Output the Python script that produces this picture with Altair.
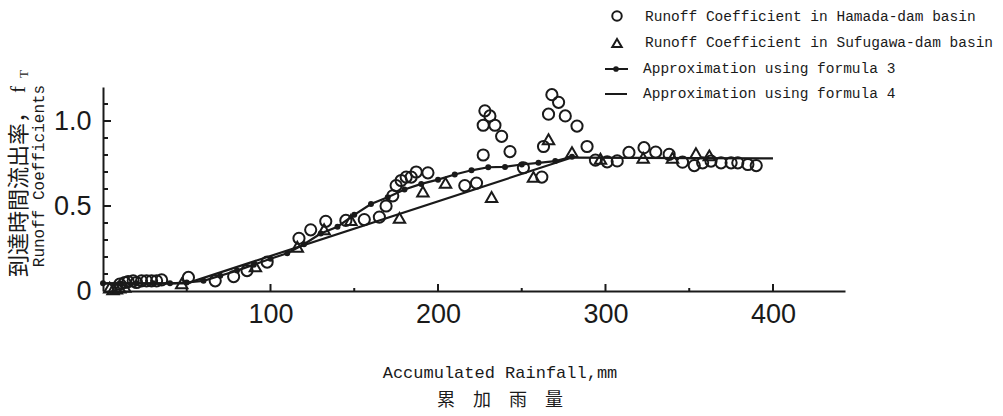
import altair as alt
import pandas as pd

# ---- data ----
hamada_x = [10, 13, 15, 18, 20, 23, 26, 29, 32, 35, 51, 67, 78, 86, 98, 117, 124, 133, 145, 156,
            165, 169, 173, 175, 178, 181, 184, 187, 194, 216, 223, 227, 227, 228, 231, 234, 238, 243, 251, 262,
            263, 266, 268, 272, 276, 283, 289, 294, 301, 307, 314, 323, 330, 338, 346, 353, 358, 363, 369, 375,
            379, 385, 390]
hamada_y = [0.04, 0.05, 0.055, 0.06, 0.05, 0.06, 0.06, 0.06, 0.06, 0.065, 0.08, 0.06, 0.085, 0.12, 0.17, 0.31, 0.36, 0.41, 0.415, 0.42,
            0.435, 0.50, 0.56, 0.62, 0.65, 0.67, 0.67, 0.70, 0.695, 0.62, 0.635, 0.80, 0.975, 1.06, 1.03, 0.975, 0.91, 0.82, 0.725, 0.67,
            0.85, 1.04, 1.155, 1.11, 1.03, 0.97, 0.85, 0.77, 0.76, 0.765, 0.815, 0.843, 0.817, 0.804, 0.758, 0.738, 0.754, 0.764, 0.754, 0.754,
            0.754, 0.744, 0.738]

sufu_x = [4, 6, 8, 10, 13, 47, 91, 116, 132, 148, 177, 191, 204.5, 232, 257, 266, 280, 297, 322.5, 340, 354, 362]
sufu_y = [0.02, 0.01, 0.015, 0.02, 0.025, 0.045, 0.145, 0.26, 0.363, 0.418, 0.43, 0.585, 0.636, 0.553, 0.671, 0.893, 0.817, 0.778, 0.784, 0.784, 0.81, 0.798]

f3_x = [0, 10, 20, 30, 40, 50, 60, 70, 80, 90, 100, 110, 120, 130, 140, 150, 160, 170, 180, 190,
        200, 210, 220, 230, 240, 250, 260, 270, 280]
f3_y = [0.045, 0.045, 0.045, 0.045, 0.045, 0.05, 0.06, 0.09, 0.12, 0.155, 0.19, 0.222, 0.275, 0.338, 0.378, 0.448, 0.512, 0.552, 0.597, 0.63,
        0.655, 0.685, 0.71, 0.728, 0.73, 0.744, 0.754, 0.764, 0.79]

f4_x = [0, 50, 280, 400]
f4_y = [0.045, 0.045, 0.785, 0.78]

x_major = [100, 200, 300, 400]
x_minor = [50, 150, 250, 350]
y_major = [0.5, 1.0]
y_minor = [0.1, 0.2, 0.3, 0.4, 0.6, 0.7, 0.8, 0.9, 1.1]
y_labels = [0, 0.5, 1.0]

legend_labels = ["Runoff Coefficient in Hamada-dam basin",
                 "Runoff Coefficient in Sufugawa-dam basin",
                 "Approximation using formula 3",
                 "Approximation using formula 4"]

x_title = "Accumulated Rainfall,mm"
x_title_jp = "累\u3000加\u3000雨\u3000量"
y_title = "Runoff Coefficients"
y_title_jp = "到達時間流出率，"

# ---- chart ----
INK = "#1a1a1a"
W, H = 742, 204
xs = alt.Scale(domain=[0, 443], nice=False, zero=False)
ys = alt.Scale(domain=[0, 1.2], nice=False)

x_axis = alt.Axis(values=x_major, title=None, grid=False, ticks=False, labelFont="Liberation Sans",
                  labelFontSize=27, labelColor=INK, labelPadding=10, domainColor=INK, domainWidth=2,
                  labelBaseline="top")
y_axis = alt.Axis(values=y_labels, title=None, grid=False, ticks=False, labelFont="Liberation Sans",
                  labelFontSize=27, labelColor=INK, labelPadding=12, domainColor=INK, domainWidth=2,
                  labelExpr="datum.value == 0 ? '0' : format(datum.value, '.1f')")


def X(f):
    return alt.X(f, type="quantitative", scale=xs, axis=x_axis)


def Y(f):
    return alt.Y(f, type="quantitative", scale=ys, axis=y_axis)


ham = pd.DataFrame({"x": hamada_x, "y": hamada_y})
suf = pd.DataFrame({"x": sufu_x, "y": sufu_y})
f3 = pd.DataFrame({"x": f3_x, "y": f3_y})
f4 = pd.DataFrame({"x": f4_x, "y": f4_y})

l_f4 = alt.Chart(f4).mark_line(color=INK, strokeWidth=2.2).encode(x=X("x"), y=Y("y"))
l_f3 = alt.Chart(f3).mark_line(color=INK, strokeWidth=2.2).encode(x=X("x"), y=Y("y"))
p_f3 = alt.Chart(f3).mark_point(shape="circle", filled=True, color=INK, size=36, opacity=1).encode(x=X("x"), y=Y("y"))
p_ham = alt.Chart(ham).mark_point(shape="circle", filled=False, color=INK, size=125, strokeWidth=2, opacity=1).encode(x=X("x"), y=Y("y"))
p_suf = alt.Chart(suf).mark_point(shape="triangle-up", filled=False, color=INK, size=130, strokeWidth=2, opacity=1).encode(x=X("x"), y=Y("y"))

# inward ticks
xt_major = alt.Chart(pd.DataFrame({"v": x_major})).mark_rule(color=INK, strokeWidth=2).encode(
    x=X("v"), y=alt.value(H), y2=alt.value(H - 7))
xt_minor = alt.Chart(pd.DataFrame({"v": x_minor})).mark_rule(color=INK, strokeWidth=2).encode(
    x=X("v"), y=alt.value(H), y2=alt.value(H - 3))
yt_major = alt.Chart(pd.DataFrame({"v": y_major})).mark_rule(color=INK, strokeWidth=2).encode(
    y=Y("v"), x=alt.value(0), x2=alt.value(8))
yt_minor = alt.Chart(pd.DataFrame({"v": y_minor})).mark_rule(color=INK, strokeWidth=2).encode(
    y=Y("v"), x=alt.value(0), x2=alt.value(5))


def label(txt, x, y, **kw):
    return alt.Chart(pd.DataFrame({"t": [txt]})).mark_text(color=INK, **kw).encode(
        x=alt.value(x), y=alt.value(y), text="t:N")


one = pd.DataFrame({"k": [0]})
mono = "Liberation Mono"

legend = [
    alt.Chart(one).mark_point(shape="circle", filled=False, color=INK, size=90, strokeWidth=2, opacity=1).encode(
        x=alt.value(514), y=alt.value(-71)),
    alt.Chart(one).mark_point(shape="triangle-up", filled=False, color=INK, size=90, strokeWidth=2, opacity=1).encode(
        x=alt.value(514), y=alt.value(-44)),
    alt.Chart(one).mark_rule(color=INK, strokeWidth=2).encode(x=alt.value(502), x2=alt.value(525), y=alt.value(-18)),
    alt.Chart(one).mark_point(shape="circle", filled=True, color=INK, size=32, opacity=1).encode(
        x=alt.value(513), y=alt.value(-18)),
    alt.Chart(one).mark_rule(color=INK, strokeWidth=2).encode(x=alt.value(502), x2=alt.value(524), y=alt.value(7)),
    label(legend_labels[0], 542, -70, font=mono, fontSize=14.5, align="left", baseline="middle"),
    label(legend_labels[1], 542, -44, font=mono, fontSize=14.5, align="left", baseline="middle"),
    label(legend_labels[2], 540, -18, font=mono, fontSize=14.5, align="left", baseline="middle"),
    label(legend_labels[3], 540, 7, font=mono, fontSize=14.5, align="left", baseline="middle"),
]

titles = [
    label(x_title, 397, 286, font=mono, fontSize=17, align="center", baseline="middle"),
    label(x_title_jp, 397, 314, font="Noto Sans CJK JP", fontSize=18, align="center", baseline="middle"),
    label(y_title, -64, 89, font=mono, fontSize=16, align="center", baseline="middle", angle=270),
    label(y_title_jp, -84, 190, font="Noto Sans CJK JP", fontSize=22, align="left", baseline="middle", angle=270),
    label("f", -84, 6, font="Liberation Serif", fontSize=21, align="left", baseline="middle", angle=270),
    label("T", -79, -9, font="Liberation Serif", fontSize=13, align="left", baseline="middle", angle=270),
]

chart = alt.layer(
    l_f4, l_f3, p_f3, p_ham, p_suf, xt_major, xt_minor, yt_major, yt_minor, *legend, *titles
).properties(
    width=W, height=H,
    autosize=alt.AutoSizeParams(type="none"),
    padding={"left": 103, "top": 87, "right": 1003 - 103 - W, "bottom": 416 - 87 - H},
    background="white",
).configure_view(stroke=None)

chart.save("out.html", embed_options={"renderer": "svg", "actions": False})
